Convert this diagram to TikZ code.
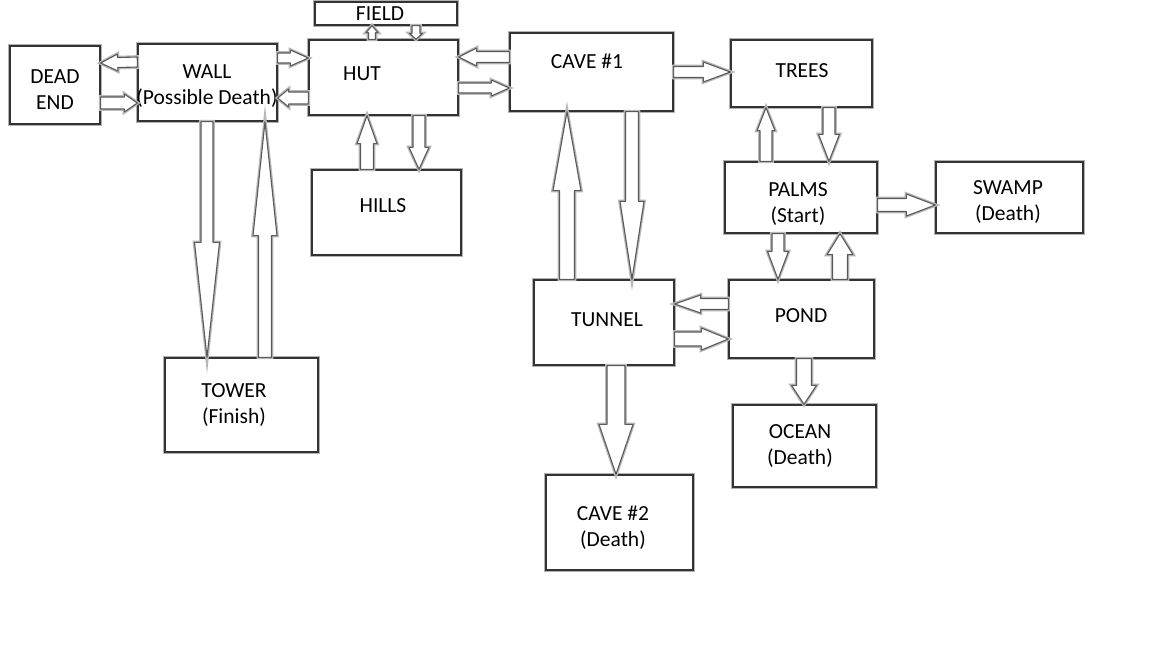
\documentclass[tikz,border=0pt]{standalone}
\usepackage{fontspec}
\setmainfont{Carlito}
\usetikzlibrary{calc}
\tikzset{
  box/.style={rectangle, draw=black!80, line width=1.3pt, fill=white, inner sep=0pt,
    preaction={draw=black!30, line width=3.8pt}},
  lbl/.style={align=center, inner sep=0pt, font=\fontsize{21.5}{26}\selectfont},
  blockarrow/.style={fill=white, draw=black!65, line width=1.1pt, line join=round,
    preaction={draw=black!28, line width=3.6pt}}
}
\newcommand{\barrow}[5]{%
  \coordinate (bA) at #1; \coordinate (bB) at #2;
  \coordinate (bH) at ($(bB)!#5pt!(bA)$);
  \draw[blockarrow] ($(bA)!#3pt!90:(bB)$) -- ($(bH)!#3pt!-90:(bA)$) -- ($(bH)!#4pt!-90:(bA)$)
    -- (bB) -- ($(bH)!#4pt!90:(bA)$) -- ($(bH)!#3pt!90:(bA)$) -- ($(bA)!#3pt!-90:(bB)$) -- cycle;}
\begin{document}
\begin{tikzpicture}[x=1pt,y=-1pt]
\useasboundingbox[fill=white] (0,0) rectangle (1152,648);
% boxes
\node[box, minimum width=90pt, minimum height=78pt] (dead) at (55,85) {};
\node[box, minimum width=139pt, minimum height=77pt] (wall) at (207.5,82.5) {};
\node[box, minimum width=149pt, minimum height=75pt] (hut) at (383.5,77.5) {};
\node[box, minimum width=142pt, minimum height=23pt] (field) at (386,13.5) {};
\node[box, minimum width=163pt, minimum height=78pt] (cave1) at (591.5,72) {};
\node[box, minimum width=141pt, minimum height=67pt] (trees) at (801.5,73.5) {};
\node[box, minimum width=149pt, minimum height=85pt] (hills) at (386.5,212.5) {};
\node[box, minimum width=153pt, minimum height=94pt] (tower) at (241.5,405) {};
\node[box, minimum width=152pt, minimum height=71pt] (palms) at (801,197.5) {};
\node[box, minimum width=147pt, minimum height=71pt] (swamp) at (1009.5,197.5) {};
\node[box, minimum width=140pt, minimum height=85pt] (tunnel) at (604,322.5) {};
\node[box, minimum width=145pt, minimum height=78pt] (pond) at (801.5,319) {};
\node[box, minimum width=143pt, minimum height=82pt] (ocean) at (804.5,446) {};
\node[box, minimum width=147pt, minimum height=95pt] (cave2) at (619.5,522.5) {};
% labels
\node[lbl] (tdead) at (55,90) {DEAD\\END};
\node[lbl] (twall) at (207,86.5) {WALL\\(Possible Death)};
\node[lbl] (thut) at (362,74) {HUT};
\node[lbl] (tfield) at (380,14) {FIELD};
\node[lbl] (tcave1) at (587,61) {CAVE \#1};
\node[lbl] (ttrees) at (802,71) {TREES};
\node[lbl] (thills) at (383,206) {HILLS};
\node[lbl] (ttower) at (234,405.5) {TOWER\\(Finish)};
\node[lbl] (tpalms) at (798,204.5) {PALMS\\(Start)};
\node[lbl] (tswamp) at (1008,202.5) {SWAMP\\(Death)};
\node[lbl] (ttunnel) at (607,320) {TUNNEL};
\node[lbl] (tpond) at (801,316) {POND};
\node[lbl] (tocean) at (800,446.5) {OCEAN\\(Death)};
\node[lbl] (tcave2) at (613,527.5) {CAVE \#2\\(Death)};
% arrows
\barrow{(wall.west |- 0,62)}{(dead.east |- 0,63)}{5}{8.5}{17}
\barrow{(dead.east |- 0,103)}{(wall.west |- 0,103)}{6}{9}{13}
\barrow{(wall.east |- 0,58)}{(hut.west |- 0,58)}{5}{8}{18}
\barrow{(hut.west |- 0,98)}{(wall.east |- 0,98)}{6}{9}{11}
\barrow{(hut.north -| 372,0)}{(field.south -| 372,0)}{3.5}{6}{7}
\barrow{(field.south -| 416,0)}{(hut.north -| 416,0)}{4}{6.5}{6}
\barrow{(cave1.west |- 0,57)}{(hut.east |- 0,57)}{5.5}{9}{18}
\barrow{(hut.east |- 0,88)}{(cave1.west |- 0,88)}{5}{8}{18}
\barrow{(cave1.east |- 0,72)}{(trees.west |- 0,72)}{5.5}{10}{27}
\barrow{(hills.north -| 367,0)}{(hut.south -| 367,0)}{6.5}{10}{28}
\barrow{(hut.south -| 419,0)}{(hills.north -| 419,0)}{6}{10}{22}
\barrow{(wall.south -| 207,0)}{(tower.north -| 207,0)}{6}{12.5}{115}
\barrow{(tower.north -| 265,0)}{(wall.south -| 265,0)}{6.5}{12}{114}
\barrow{(tunnel.north -| 567,0)}{(cave1.south -| 567,0)}{7.5}{14}{79}
\barrow{(cave1.south -| 632,0)}{(tunnel.north -| 632,0)}{6.5}{12}{78}
\barrow{(palms.north -| 766,0)}{(trees.south -| 766,0)}{6}{9}{23}
\barrow{(trees.south -| 829,0)}{(palms.north -| 829,0)}{6}{10.5}{27}
\barrow{(palms.east |- 0,205)}{(swamp.west |- 0,205)}{6.5}{11}{29}
\barrow{(palms.south -| 778,0)}{(pond.north -| 778,0)}{6}{10.5}{28}
\barrow{(pond.north -| 840,0)}{(palms.south -| 840,0)}{7.5}{13}{21}
\barrow{(pond.west |- 0,304)}{(tunnel.east |- 0,304)}{5.5}{9}{26}
\barrow{(tunnel.east |- 0,339)}{(pond.west |- 0,339)}{7}{11}{27}
\barrow{(tunnel.south -| 616,0)}{(cave2.north -| 616,0)}{9}{17}{50}
\barrow{(pond.south -| 804,0)}{(ocean.north -| 804,0)}{7.5}{12.5}{19}
\end{tikzpicture}
\end{document}
